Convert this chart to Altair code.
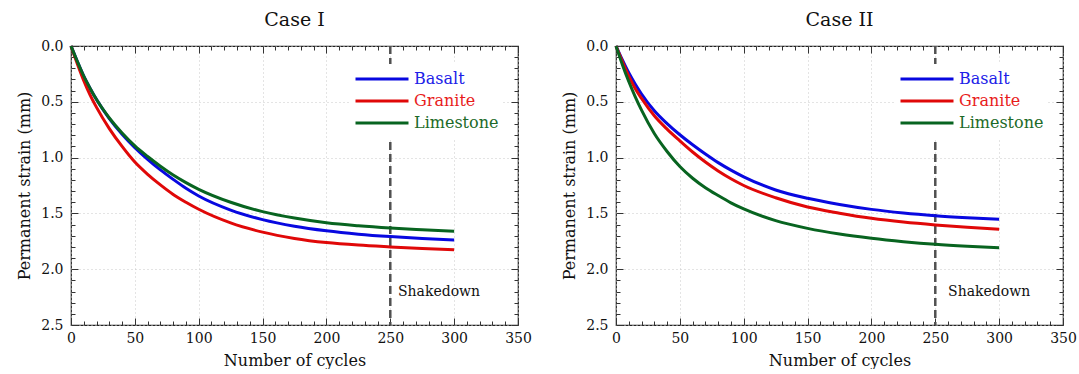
import altair as alt
import pandas as pd

FONT = "DejaVu Serif"

cycles = [0, 5, 10, 15, 20, 30, 40, 50, 60, 70, 80, 90, 100,
          125, 150, 175, 200, 225, 250, 275, 300]

# Case I
c1_basalt = [0, .14, .27, .38, .48, .65, .79, .91, 1.015, 1.11, 1.195, 1.275, 1.344,
             1.47, 1.556, 1.615, 1.656, 1.686, 1.708, 1.725, 1.738]
c1_granite = [0, .16, .31, .44, .55, .74, .90, 1.04, 1.15, 1.245, 1.33, 1.40, 1.463,
              1.585, 1.668, 1.724, 1.761, 1.784, 1.80, 1.814, 1.825]
c1_limestone = [0, .14, .27, .38, .48, .645, .78, .895, .99, 1.077, 1.156, 1.224, 1.284,
                1.40, 1.484, 1.542, 1.584, 1.611, 1.631, 1.646, 1.659]

# Case II
c2_basalt = [0, .125, .24, .34, .43, .58, .695, .795, .885, .968, 1.045, 1.112, 1.172,
             1.29, 1.365, 1.42, 1.464, 1.496, 1.52, 1.538, 1.553]
c2_granite = [0, .14, .27, .38, .47, .625, .745, .85, .95, 1.04, 1.12, 1.19, 1.25,
              1.36, 1.443, 1.498, 1.544, 1.578, 1.604, 1.625, 1.643]
c2_limestone = [0, .167, .318, .453, .575, .784, .945, 1.08, 1.185, 1.27, 1.34, 1.405, 1.46,
                1.565, 1.634, 1.685, 1.723, 1.753, 1.777, 1.794, 1.807]

materials = ["Basalt", "Granite", "Limestone"]
line_colors = ["#0808e0", "#e00808", "#086420"]

panel_titles = ["Case I", "Case II"]
shakedown_x = [250, 250]
shakedown_label_x = [256, 260]
shakedown_label_y = [2.2, 2.2]

x_major = [0, 50, 100, 150, 200, 250, 300, 350]
x_minor = list(range(0, 351, 10))
y_major = [0.0, 0.5, 1.0, 1.5, 2.0, 2.5]
y_minor = [round(i * 0.1, 1) for i in range(0, 26)]

W, H = 447, 279


def panel(title, series, sx, lx, ly):
    rows = []
    for name, vals in zip(materials, series):
        for c, v in zip(cycles, vals):
            rows.append({"cycles": c, "strain": v, "material": name})
    df = pd.DataFrame(rows)
    rule_df = pd.DataFrame({"x": [sx], "y0": [0.0], "y1": [2.5]})
    text_df = pd.DataFrame({"x": [lx], "y": [ly], "t": ["Shakedown"]})

    xs = alt.Scale(domain=[0, 350], nice=False, zero=False)
    ys = alt.Scale(domain=[0, 2.5], reverse=True, nice=False, zero=False)

    xtick = {"condition": {"test": "datum.value % 50 === 0", "value": 7}, "value": 4}
    ytick = {"condition": {"test": "abs(datum.value * 2 - round(datum.value * 2)) < 0.001",
                           "value": 7}, "value": 4}

    x_lab = alt.Axis(orient="bottom", values=x_major, ticks=False, tickSize=0, domain=False,
                     grid=True, gridDash=[1, 3], gridColor="#c8c8c8", gridWidth=1,
                     labelFontSize=14, labelPadding=6, labelColor="#111", labelFlush=False,
                     title="Number of cycles", titleFontSize=16, titleFontWeight="normal",
                     titlePadding=7, titleColor="#111")
    y_lab = alt.Axis(orient="left", values=y_major, format=".1f", ticks=False, tickSize=0,
                     domain=False, grid=True, gridDash=[1, 3], gridColor="#c8c8c8", gridWidth=1,
                     labelFontSize=14, labelPadding=8, labelColor="#111", labelFlush=False,
                     title="Permanent strain (mm)", titleFontSize=16, titleFontWeight="normal",
                     titlePadding=8, titleColor="#111")
    x_in_top = alt.Axis(orient="bottom", offset=-H, values=x_minor, labels=False, domain=False,
                        grid=False, tickSize=xtick, tickColor="#333", tickWidth=1, title=None)
    x_in_bot = alt.Axis(orient="top", offset=-H, values=x_minor, labels=False, domain=False,
                        grid=False, tickSize=xtick, tickColor="#333", tickWidth=1, title=None)
    y_in_left = alt.Axis(orient="right", offset=-W, values=y_minor, labels=False, domain=False,
                         grid=False, tickSize=ytick, tickColor="#333", tickWidth=1, title=None)
    y_in_right = alt.Axis(orient="left", offset=-W, values=y_minor, labels=False, domain=False,
                          grid=False, tickSize=ytick, tickColor="#333", tickWidth=1, title=None)

    label_expr = ("datum.label == 'Basalt' ? '#2020e8' : datum.label == 'Granite' ? "
                  "'#e81c1c' : '#1c6a28'")

    lines = alt.Chart(df).mark_line(strokeWidth=3, interpolate="monotone").encode(
        x=alt.X("cycles:Q", scale=xs, axis=x_lab),
        y=alt.Y("strain:Q", scale=ys, axis=y_lab),
        color=alt.Color("material:N", scale=alt.Scale(domain=materials, range=line_colors),
                        legend=alt.Legend(orient="none", legendX=279, legendY=18, title=None,
                                          symbolType="stroke", symbolSize=2809,
                                          symbolStrokeWidth=3, clipHeight=22, rowPadding=0,
                                          labelFontSize=16, labelFont=FONT, labelOffset=4,
                                          labelColor=alt.ExprRef(label_expr),
                                          fillColor="white", padding=4)),
        order=alt.Order("material:N"),
    )
    rule = alt.Chart(rule_df).mark_rule(color="#505050", strokeWidth=2.5, strokeDash=[8, 4]).encode(
        x=alt.X("x:Q", scale=xs, axis=x_in_top),
        y=alt.Y("y0:Q", scale=ys, axis=y_in_left),
        y2="y1:Q",
    )
    text = alt.Chart(text_df).mark_text(align="left", baseline="middle", fontSize=14,
                                        font=FONT, color="#111").encode(
        x=alt.X("x:Q", scale=xs, axis=x_in_bot),
        y=alt.Y("y:Q", scale=ys, axis=y_in_right),
        text="t:N",
    )
    return alt.layer(rule, lines, text).resolve_axis(x="independent", y="independent").properties(
        width=W, height=H,
        title=alt.TitleParams(title, fontSize=19, font=FONT, fontWeight="normal",
                              color="#111", offset=9, anchor="middle"),
    )


p1 = panel(panel_titles[0], [c1_basalt, c1_granite, c1_limestone],
           shakedown_x[0], shakedown_label_x[0], shakedown_label_y[0])
p2 = panel(panel_titles[1], [c2_basalt, c2_granite, c2_limestone],
           shakedown_x[1], shakedown_label_x[1], shakedown_label_y[1])

chart = alt.hconcat(p1, p2, spacing=29).resolve_legend(color="independent").properties(
    padding={"left": 16, "top": 10, "right": 0, "bottom": 0},
    background="white",
).configure(font=FONT).configure_view(stroke="#222", strokeWidth=1.2).configure_axis(
    labelFont=FONT, titleFont=FONT)

chart.save("out.html", embed_options={"renderer": "svg", "actions": False})
